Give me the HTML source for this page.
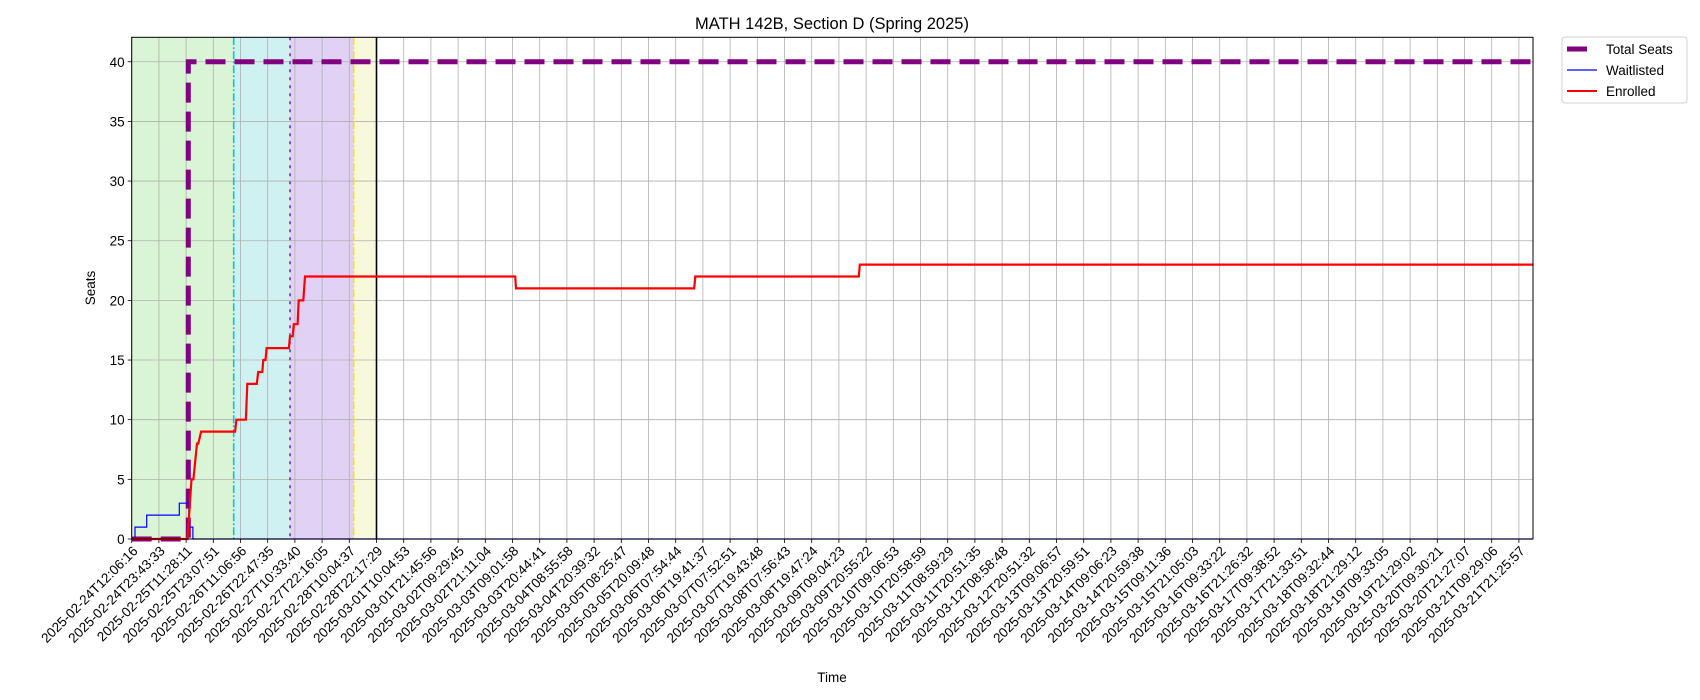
<!DOCTYPE html>
<html><head><meta charset="utf-8"><style>
body{margin:0;background:#fff;}
svg{display:block;font-family:"Liberation Sans","DejaVu Sans",sans-serif;}
</style></head><body>
<svg id="chart" width="1700" height="700" viewBox="0 0 1700 700">
<text x="832" y="29" text-anchor="middle" font-size="16.5">MATH 142B, Section D (Spring 2025)</text>
<g id="bands"></g><g id="grid"></g><g id="series"></g><g id="axes"></g>
<text x="832" y="682" text-anchor="middle" font-size="13.5">Time</text>
<text transform="translate(95,288) rotate(-90)" text-anchor="middle" font-size="13.5">Seats</text>
<g>
<rect x="1562" y="37" width="125" height="66" rx="3" fill="#fff" stroke="#d0d0d0"/>
<line x1="1567" y1="49" x2="1587" y2="49" stroke="#800080" stroke-width="5"/>
<text x="1606" y="54" font-size="13.5">Total Seats</text>
<line x1="1567" y1="70" x2="1597" y2="70" stroke="#0000ff" stroke-width="1.2"/>
<text x="1606" y="75" font-size="13.5">Waitlisted</text>
<line x1="1567" y1="91" x2="1597" y2="91" stroke="#ff0000" stroke-width="2"/>
<text x="1606" y="96" font-size="13.5">Enrolled</text>
</g>
</svg>
<script>
const tickLabels=["2025-02-24T12:06:16","2025-02-24T23:43:33","2025-02-25T11:28:11","2025-02-25T23:07:51","2025-02-26T11:06:56","2025-02-26T22:47:35","2025-02-27T10:33:40","2025-02-27T22:16:05","2025-02-28T10:04:37","2025-02-28T22:17:29","2025-03-01T10:04:53","2025-03-01T21:45:56","2025-03-02T09:29:45","2025-03-02T21:11:04","2025-03-03T09:01:58","2025-03-03T20:44:41","2025-03-04T08:55:58","2025-03-04T20:39:32","2025-03-05T08:25:47","2025-03-05T20:09:48","2025-03-06T07:54:44","2025-03-06T19:41:37","2025-03-07T07:52:51","2025-03-07T19:43:48","2025-03-08T07:56:43","2025-03-08T19:47:24","2025-03-09T09:04:23","2025-03-09T20:55:22","2025-03-10T09:06:53","2025-03-10T20:58:59","2025-03-11T08:59:29","2025-03-11T20:51:35","2025-03-12T08:58:48","2025-03-12T20:51:32","2025-03-13T09:06:57","2025-03-13T20:59:51","2025-03-14T09:06:23","2025-03-14T20:59:38","2025-03-15T09:11:36","2025-03-15T21:05:03","2025-03-16T09:33:22","2025-03-16T21:26:32","2025-03-17T09:38:52","2025-03-17T21:33:51","2025-03-18T09:32:44","2025-03-18T21:29:12","2025-03-19T09:33:05","2025-03-19T21:29:02","2025-03-20T09:30:21","2025-03-20T21:27:07","2025-03-21T09:29:06","2025-03-21T21:25:57"];
const yTicks=[0,5,10,15,20,25,30,35,40];
// time positions in tick-index units
const totalT=[0,2.08,2.08,51.5];
const totalV=[0,0,40,40];
const waitT=[0,0.12,0.12,0.55,0.55,1.75,1.75,1.9,1.9,2.1,2.1,2.25,2.25,51.5];
const waitV=[0,0,1,1,2,2,3,3,3,3,1,1,0,0];
const enrT=[0,1.95,2.05,2.2,2.27,2.4,2.45,2.55,2.63,3.8,3.85,4.2,4.25,4.6,4.65,4.8,4.84,4.92,4.96,5.78,5.82,5.92,5.96,6.1,6.14,6.31,6.37,14.1,14.13,20.68,20.72,26.73,26.77,51.5];
const enrV=[0,0,0,5,5,8,8,9,9,9,10,10,13,13,14,14,15,15,16,16,17,17,18,18,20,20,22,22,21,21,22,22,23,23];
const bandStarts=[0,3.75,5.82,8.16];
const bandEnds=[3.75,5.82,8.16,9.0];
const bandColors=["#daf5d5","#cff1f2","#e1d2f5","#f8f8dc"];
const lineT=[3.75,5.82,8.16];
const lineColors=["#17becf","#6a2fd6","#e8e030"];
const lineDash=["8 2 2 2","3 5","8 2 2 2"];

const L=131.7,R=1533,T=37.3,B=539,step=27.2,YMAX=42.05;
const X=t=>L+t*step, Y=v=>B-v*(B-T)/YMAX;
const NS="http://www.w3.org/2000/svg";
function mk(tag,attrs,parent){const e=document.createElementNS(NS,tag);for(const k in attrs)e.setAttribute(k,attrs[k]);parent.appendChild(e);return e;}
const gB=document.getElementById('bands'),gG=document.getElementById('grid'),gS=document.getElementById('series'),gA=document.getElementById('axes');
bandStarts.forEach((s,i)=>{const r=mk('rect',{x:X(s),y:T,width:X(bandEnds[i])-X(s),height:B-T,fill:bandColors[i]},gB);

});
tickLabels.forEach((lab,i)=>{const x=X(i);
const g=mk('line',{x1:x,y1:T,x2:x,y2:B,stroke:'#b0b0b0','stroke-width':0.8},gG);


const tk=mk('line',{x1:x,y1:B,x2:x,y2:B+4,stroke:'#000','stroke-width':0.8},gA);


const t=mk('text',{x:x+4,y:B+14,'text-anchor':'end','font-size':13.5,transform:`rotate(-45 ${x+4} ${B+10})`},gA);
t.textContent=lab;

});
yTicks.forEach(v=>{const y=Y(v);
const g=mk('line',{x1:L,y1:y,x2:R,y2:y,stroke:'#b0b0b0','stroke-width':0.8},gG);


const tk=mk('line',{x1:L-4,y1:y,x2:L,y2:y,stroke:'#000','stroke-width':0.8},gA);


const t=mk('text',{x:L-7,y:y+5,'text-anchor':'end','font-size':13.5},gA);
t.textContent=v;

});
lineT.forEach((t,i)=>{const l=mk('line',{x1:X(t),y1:T,x2:X(t),y2:B,stroke:lineColors[i],'stroke-width':1.6,'stroke-dasharray':lineDash[i]},gS);

});
const bl=mk('line',{x1:X(9),y1:T,x2:X(9),y2:B,stroke:'#000','stroke-width':1.6},gS);


function path(ts,vs){return ts.map((t,i)=>(i?'L':'M')+X(t).toFixed(1)+' '+Y(vs[i]).toFixed(1)).join(' ');}
const pT=mk('path',{d:path(totalT,totalV),fill:'none',stroke:'#800080','stroke-width':5,'stroke-dasharray':'20 9'},gS);


const pW=mk('path',{d:path(waitT,waitV),fill:'none',stroke:'#0000ff','stroke-width':1.2},gS);


const pE=mk('path',{d:path(enrT,enrV),fill:'none',stroke:'#ff0000','stroke-width':2.2},gS);


const fr=mk('rect',{x:L,y:T,width:R-L,height:B-T,fill:'none',stroke:'#000','stroke-width':1},gA);


</script>
</body></html>
